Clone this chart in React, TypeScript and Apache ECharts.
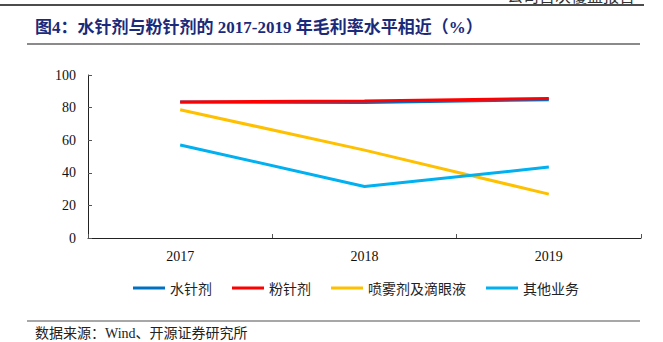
import React, { useEffect, useRef } from "react";
import * as echarts from "echarts";

const categories = ["2017", "2018", "2019"];
const seriesNames = ["水针剂", "粉针剂", "喷雾剂及滴眼液", "其他业务"];
const waterInjection = [83.4, 83.2, 84.8];
const powderInjection = [83.5, 84.1, 85.6];
const sprayEyeDrops = [78.7, 53.9, 26.9];
const otherBusiness = [57.1, 31.6, 43.5];
const yTicks = [0, 20, 40, 60, 80, 100];
const colors = ["#0070C0", "#FF0000", "#FFC000", "#00B0F0"];

const titleText = "图4：水针剂与粉针剂的 2017-2019 年毛利率水平相近（%）";
const sourceText = "数据来源：Wind、开源证券研究所";
const headerText = "公司首次覆盖报告";

const SERIF = "'Liberation Serif', 'Times New Roman', 'Noto Sans CJK SC', serif";
const CJK = "'Noto Sans CJK SC', sans-serif";

export default function App() {
  const ref = useRef<HTMLDivElement>(null);
  useEffect(() => {
    if (!ref.current) return;
    const chart = echarts.init(ref.current, null, { renderer: "svg" });
    const values = [waterInjection, powderInjection, sprayEyeDrops, otherBusiness];
    chart.setOption({
      animation: false,
      backgroundColor: "#ffffff",
      grid: { left: 88, right: 22, top: 75, bottom: 104, containLabel: false },
      xAxis: {
        type: "category",
        data: categories,
        boundaryGap: true,
        axisLine: { lineStyle: { color: "#222", width: 1 } },
        axisTick: { show: true, inside: true, length: 4, lineStyle: { color: "#555" } },
        axisLabel: { fontFamily: SERIF, fontSize: 14, color: "#111", margin: 11 },
        splitLine: { show: false },
      },
      yAxis: {
        type: "value",
        min: yTicks[0],
        max: yTicks[yTicks.length - 1],
        interval: 20,
        axisLine: { show: true, lineStyle: { color: "#222", width: 1 } },
        axisTick: { show: true, inside: true, length: 4, lineStyle: { color: "#555" } },
        axisLabel: { fontFamily: SERIF, fontSize: 14, color: "#111", margin: 12 },
        splitLine: { show: false },
      },
      legend: {
        data: seriesNames,
        left: 128,
        top: 276,
        icon: "rect",
        itemWidth: 32,
        itemHeight: 3,
        itemGap: 20,
        textStyle: { fontFamily: CJK, fontSize: 14, color: "#222" },
      },
      series: seriesNames.map((name, i) => ({
        name,
        type: "line",
        data: values[i],
        symbol: "none",
        color: colors[i],
        lineStyle: { width: 3, color: colors[i] },
      })),
      graphic: [
        {
          type: "line",
          shape: { x1: 0, y1: 5, x2: 644, y2: 5 },
          style: { stroke: "#111", lineWidth: 1.5 },
        },
        {
          type: "text",
          x: 635,
          y: 3,
          style: {
            text: headerText,
            fontFamily: CJK,
            fontSize: 16,
            fill: "#333",
            align: "right",
            verticalAlign: "bottom",
          },
        },
        {
          type: "text",
          x: 35,
          y: 27,
          style: {
            text: titleText,
            fontFamily: SERIF,
            fontWeight: "bold",
            fontSize: 17,
            fill: "#1B2A7A",
            align: "left",
            verticalAlign: "middle",
          },
        },
        {
          type: "line",
          shape: { x1: 27, y1: 44, x2: 640, y2: 44 },
          style: { stroke: "#8a8a8a", lineWidth: 2 },
        },
        {
          type: "line",
          shape: { x1: 27, y1: 321, x2: 640, y2: 321 },
          style: { stroke: "#8a8a8a", lineWidth: 1.5 },
        },
        {
          type: "text",
          x: 35,
          y: 333,
          style: {
            text: sourceText,
            fontFamily: SERIF,
            fontSize: 14,
            fill: "#222",
            align: "left",
            verticalAlign: "middle",
          },
        },
      ],
    });
    return () => chart.dispose();
  }, []);
  return (
    <div
      ref={ref}
      style={{ position: "fixed", left: 0, top: 0, width: 663, height: 342, background: "#fff" }}
    />
  );
}
